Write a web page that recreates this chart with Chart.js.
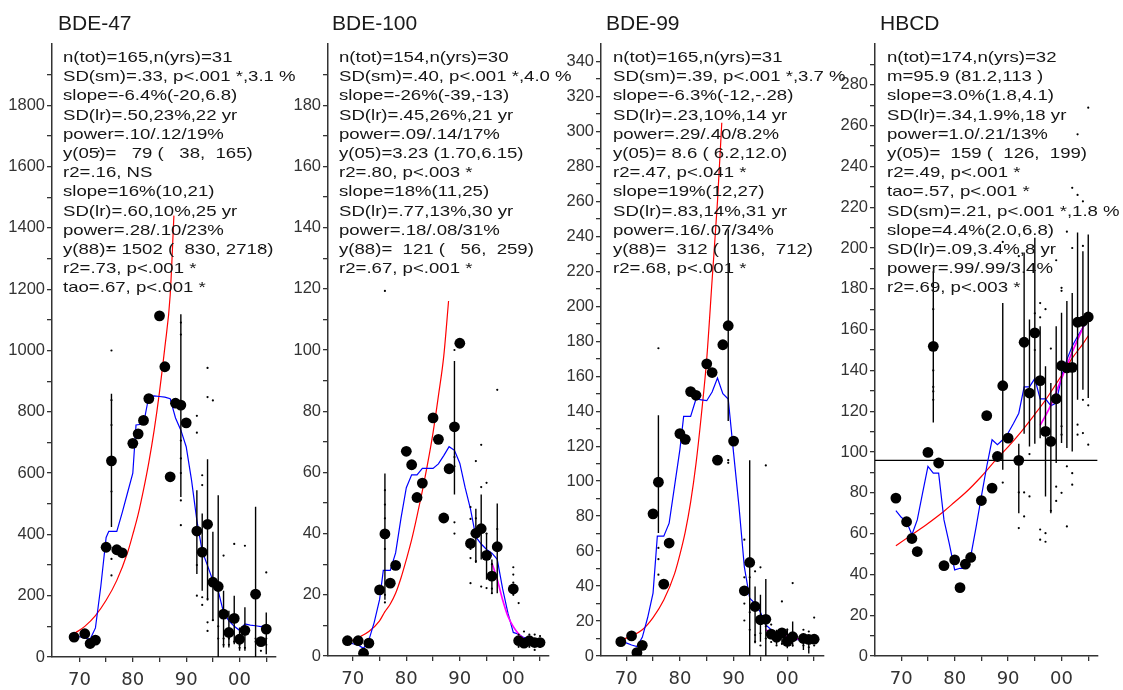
<!DOCTYPE html>
<html>
<head>
<meta charset="utf-8">
<script src="https://cdn.jsdelivr.net/npm/chart.js@4.4.0/dist/chart.umd.min.js"></script>
<style>
  body { margin: 0; background: #fff; width: 1123px; height: 690px; position: relative; overflow: hidden;
         font-family: "Liberation Sans", Arial, sans-serif; }
  canvas { position: absolute; top: 0; }
  .ttl { position: absolute; top: 11px; font-size: 21px; line-height: 24px; color: #1a1a1a; }
  .ann { position: absolute; top: 47px; font-size: 15px; line-height: 19.2px; white-space: pre; color: #151515;
         transform: scaleX(1.24); transform-origin: 0 0; z-index: 2; }
</style>
</head>
<body>
<canvas id="p1" width="279" height="690" style="left:2px;width:279px;height:690px"></canvas>
<canvas id="p2" width="276" height="690" style="left:278px;width:276px;height:690px"></canvas>
<canvas id="p3" width="278" height="690" style="left:551px;width:278px;height:690px"></canvas>
<canvas id="p4" width="278" height="690" style="left:825px;width:278px;height:690px"></canvas>

<div class="ttl" style="left:58px">BDE-47</div>
<div class="ttl" style="left:332px">BDE-100</div>
<div class="ttl" style="left:606px">BDE-99</div>
<div class="ttl" style="left:880px">HBCD</div>

<div class="ann" id="a1" style="left:63px"></div>
<div class="ann" id="a2" style="left:339px"></div>
<div class="ann" id="a3" style="left:613px"></div>
<div class="ann" id="a4" style="left:887px"></div>

<script>
// ---------- BDE-47 ----------
var bde47Years = [69,71,72,73,75,76,77,78,80,81,82,83,85,86,87,88,89,90,92,93,94,95,96,97,98,99,100,101,103,104,105];
var bde47Means = [65,76,44,55,358,640,350,340,697,728,772,843,1113,947,588,828,822,764,411,342,433,244,230,140,80,126,58,87,205,50,91];
var bde47ErrYears = [76,89,92,93,94,95,96,97,98,99,100,101,103,105];
var bde47ErrLo = [424,522,271,216,184,118,0,31,31,42,20,20,0,9];
var bde47ErrHi = [859,1118,544,468,645,409,528,216,151,200,96,162,490,145];
var bde47SampX = [76,76,76,76,76,76,89,89,89,89,89,89,89,92,92,92,92,93,93,93,93,94,94,94,94,94,95,95,96,96,97,97,97,98,98,99,99,100,100,101,101,103,103,104,104,105,105,105,104.1,75.6,73.6];
var bde47SampY = [1000,838,757,540,320,266,1091,1052,706,648,600,511,430,787,732,300,200,593,561,195,170,943,848,189,113,85,837,120,100,60,331,60,40,60,40,369,50,30,40,363,30,60,50,40,20,276,40,60,1335,1335,1650];
var bde47SmX = [69,70,71,72,73,74,75,75.5,77,78,79,80,80.6,82,83,84,85,86,87,88,89,90,91,92,93,94,95,96,97,98,99,100,101,102,103,104,105];
var bde47SmY = [69,66,62,58,95,230,390,410,410,470,535,600,757,760,850,852,850,848,843,780,740,686,577,446,345,298,249,216,145,118,100,87,108,104,102,99,104];
var bde47FitX = [69,71,73,75,77,79,80,81,82,83,84,85,86,87,87.7];
var bde47FitY = [76,100,135,185,250,340,400,465,545,635,740,865,1010,1180,1440];
var bde47Text = [
  "n(tot)=165,n(yrs)=31", "SD(sm)=.33, p<.001 *,3.1 %", "slope=-6.4%(-20,6.8)", "SD(lr)=.50,23%,22 yr",
  "power=.10/.12/19%", "y(05)=   79 (   38,  165)", "r2=.16, NS", "slope=16%(10,21)", "SD(lr)=.60,10%,25 yr",
  "power=.28/.10/23%", "y(88)= 1502 (  830, 2718)", "r2=.73, p<.001 *", "tao=.67, p<.001 *"];

// ---------- BDE-100 ----------
var bde100Years = [69,71,72,73,75,76,77,78,80,81,82,83,85,86,87,88,89,90,92,93,94,95,96,97,100,101,102,103,104,105];
var bde100Means = [5.0,5.0,0.9,4.2,21.6,39.9,23.8,29.6,66.9,62.5,51.8,56.5,77.8,70.8,45.1,61.2,74.9,102.2,36.8,40.1,41.6,32.9,26.1,35.7,21.9,5.0,4.2,5.0,4.4,4.4];
var bde100ErrYears = [76,89,93,94,95,96,97];
var bde100ErrLo = [18.4,52.8,30.4,31.5,24.9,20.5,20.5];
var bde100ErrHi = [59.6,96.4,48.1,52.8,40.2,31.5,49.8];
var bde100SampX = [76,76,76,76,76,76,76,89,89,89,89,89,92,92,92,92,92,93,93,93,94,94,94,95,95,95,96,96,96,97,97,100,100,100,100,101,101,101,102,102,103,103,104,104,105,105];
var bde100SampY = [54.2,49.5,45,35,20,17.5,119.3,100,65,62,43.7,40,48.7,44.8,23.8,35,32,63.7,45,31,69,55.2,22.7,56.6,40,22.2,30,22,20.5,87,41.5,29,26.6,24,20,17.3,7,3,8,3,7,3,7,2,6.5,3];
var bde100SmX = [69,70,71,72,73,74,75,75.7,77,78,79,80,81,82,83,85,86,87,88,89,90,91,92,93,94,95,96,97,98,99,100,101,102,103,104,105];
var bde100SmY = [4.7,4,3.6,2.5,5.2,11,18.4,28,28,33.7,45,55,59.2,59.2,61.3,61.3,62.8,65.5,68.4,67.2,63,55,48,38.9,36.6,34.8,33.6,31.6,22,14,7.7,7.1,6,5.5,5.2,4.9];
var bde100FitX = [69,71,73,75,76,77,78,79,80,81,82,83,84,85,86,87,87.9];
var bde100FitY = [4.4,6,8,11.5,14.5,17,20.5,25.5,31.5,38,45.7,54,63,73,85,98,116];
var bde100RecX = [96,97,98,99,100,101,102,103,104,105];
var bde100RecY = [30.4,25,18.4,13,9.6,7.2,5.6,4.5,3.7,3.1];
var bde100Text = [
  "n(tot)=154,n(yrs)=30", "SD(sm)=.40, p<.001 *,4.0 %", "slope=-26%(-39,-13)", "SD(lr)=.45,26%,21 yr",
  "power=.09/.14/17%", "y(05)=3.23 (1.70,6.15)", "r2=.80, p<.003 *", "slope=18%(11,25)", "SD(lr)=.77,13%,30 yr",
  "power=.18/.08/31%", "y(88)=  121 (   56,  259)", "r2=.67, p<.001 *"];

// ---------- BDE-99 ----------
var bde99Years = [69,71,72,73,75,76,77,78,80,81,82,83,85,86,87,88,89,90,92,93,94,95,96,97,98,99,100,101,103,104,105];
var bde99Means = [8.2,11.5,1.9,6.1,81.3,99.4,41.1,64.6,127.2,123.9,151.2,149.1,167.1,162.1,112,178,188.9,122.9,37.3,53.5,28.3,20.7,21,12.5,10.7,13.2,8.4,11,10,9.5,9.6];
var bde99ErrYears = [76,89,93,94,95,96,98,99,100,101,103,104];
var bde99ErrLo = [70.4,134.4,0,7.3,8.2,0,6.5,6.5,4.4,5.4,3.4,1.5];
var bde99ErrHi = [137.7,244,112,39.8,35,44,15,14,15.7,19.7,13,12];
var bde99SampX = [76,76,76,76,89,89,92,92,92,92,93,93,93,94,94,94,95,95,95,96,96,96,97,97,98,98,99,99,100,100,101,101,103,103,104,104,105,105];
var bde99SampY = [176,61.8,55.4,46.5,112,110.5,66.5,20.3,30,45,45,25,15,48.4,8.2,12,50.7,13,6,109,17,10,18,8,14,6,31.2,7,15,6,41.7,6,15,6,14,5,22,6];
var bde99SmX = [69,70,71,72,73,74,75,75.8,77,78,79,80,80.7,82,83,84,85,86,87,88,89,90,91,92,93,94,95,96,97,98,99,100,101,102,103,104,105];
var bde99SmY = [9.2,7.5,6.3,5.4,10.7,22,36,68.5,68.5,76,97,118,137,137,147,146.5,146,151,159,150,147,116,85.7,51,33,30,25,17.8,15,12,11,10,9.7,9.4,9.2,8.8,8.2];
var bde99FitX = [69,71,73,75,77,79,80,81,82,83,84,85,86,87,87.8];
var bde99FitY = [9,11.5,15,22,32,47,58,71,88,110,138,170,215,260,305];
var bde99RecX = [96,98,100,102,104,105];
var bde99RecY = [14.8,12.8,11.2,9.8,8.7,8.2];
var bde99Text = [
  "n(tot)=165,n(yrs)=31", "SD(sm)=.39, p<.001 *,3.7 %", "slope=-6.3%(-12,-.28)", "SD(lr)=.23,10%,14 yr",
  "power=.29/.40/8.2%", "y(05)= 8.6 ( 6.2,12.0)", "r2=.47, p<.041 *", "slope=19%(12,27)", "SD(lr)=.83,14%,31 yr",
  "power=.16/.07/34%", "y(88)=  312 (  136,  712)", "r2=.68, p<.001 *"];

// ---------- HBCD ----------
var hbcdYears = [69,71,72,73,75,76,77,78,80,81,82,83,85,86,87,88,89,90,92,93,94,95,96,97,98,99,100,101,102,103,104,105];
var hbcdMeans = [77.4,65.8,57.6,51.2,99.8,151.8,94.6,44.3,47.1,33.5,45,48.3,76.2,117.8,82.3,97.8,132.5,106.8,95.9,153.8,128.9,158.4,135,110.1,105.2,126.1,142.3,141.2,141.5,163.6,164.1,166.2];
var hbcdErrYears = [76,89,92,93,94,95,96,97,98,99,100,101,102,103,104,105];
var hbcdErrLo = [114.5,91.3,70,109,102.7,104,106.8,78.2,70,94.6,104.4,102,100.3,125.6,130.5,126.5];
var hbcdErrHi = [188.6,173,104,197.8,165,205,161.6,142,133.8,161.6,168.2,174,178,207.6,198.4,206.6];
var hbcdSampX = [76,76,76,76,76,89,89,92,92,92,93,93,94,94,95,95,96,96,96,96,97,97,97,98,98,99,99,99,100,100,100,100,100,101,101,101,102,102,102,102,103,103,103,103,104,104,104,104,105,105,105];
var hbcdSampY = [131.9,129.7,125.6,140,170,85,203,80.2,62.7,196,80.2,68.4,99,78.2,168,150,173,166,57,62,170,60.2,56,71.2,150.7,76,83,194,112.6,108.5,80,180.5,179,93,63.5,208,89.6,84,229.5,200,113.4,108.5,255.7,226,125.6,109.3,222.9,201,122.9,103.6,268.8];
var hbcdSmX = [69,70,71,72,73,74,75,76,77,78,79,80,81,82,83,84,85,86,87,88,89,90,91,92,93,94,95,96,97,98,99,100,101,102,103,104,105];
var hbcdSmY = [71.3,68,65.9,59.4,66.7,80,92.9,89.6,89.6,66.7,55,42.2,43,43,48.8,63,78.2,92.9,106,103.6,106,109.3,114,119,131.9,131.9,136,126,126,122.7,124,137,145.3,151.8,156.7,161,164.9];
var hbcdFitX = [69,72,75,78,80,82,85,88,90,92,95,97,100,102,104,105];
var hbcdFitY = [54,59.5,65,71,75.5,80,88,97,102.5,108.5,118.5,125.5,137.5,146,153,157];
var hbcdRecX = [96,98,100,102,104,105];
var hbcdRecY = [113,123,136,149,161,167.4];
var hbcdMean = 95.9;
var hbcdText = [
  "n(tot)=174,n(yrs)=32", "m=95.9 (81.2,113 )", "slope=3.0%(1.8,4.1)", "SD(lr)=.34,1.9%,18 yr",
  "power=1.0/.21/13%", "y(05)=  159 (  126,  199)", "r2=.49, p<.001 *", "tao=.57, p<.001 *",
  "SD(sm)=.21, p<.001 *,1.8 %", "slope=4.4%(2.0,6.8)", "SD(lr)=.09,3.4%,8 yr", "power=.99/.99/3.4%", "r2=.69, p<.003 *"];

function pts(xs, ys) { return xs.map(function (x, i) { return {x: x, y: ys[i]}; }); }

// error bars: one segment per year, broken by null points
function bars(xs, lo, hi) {
  var out = [];
  xs.forEach(function (x, i) {
    out.push({x: x, y: lo[i]}, {x: x, y: hi[i]}, {x: x, y: null});
  });
  return out;
}

function makePanel(id, p) {
  var ds = [
    {data: pts(p.years, p.means), pointRadius: 5.4, backgroundColor: '#000', borderWidth: 0, showLine: false},
    {data: pts(p.sampX, p.sampY), pointRadius: 1.1, backgroundColor: '#000', borderWidth: 0, showLine: false},
    {data: bars(p.errX, p.errLo, p.errHi), showLine: true, spanGaps: false, borderColor: '#000', borderWidth: 1.4, pointRadius: 0}
  ];
  if (p.recX) ds.push({data: pts(p.recX, p.recY), showLine: true, borderColor: '#ff00ff', borderWidth: 1.7, pointRadius: 0, cubicInterpolationMode: 'monotone'});
  ds.push({data: pts(p.smX, p.smY), showLine: true, borderColor: '#0000ff', borderWidth: 1.2, pointRadius: 0});
  ds.push({data: pts(p.fitX, p.fitY), showLine: true, borderColor: '#ff0000', borderWidth: 1.2, pointRadius: 0, cubicInterpolationMode: 'monotone'});
  if (p.mean) ds.push({data: [{x: p.xMin, y: p.mean}, {x: p.xMax, y: p.mean}], showLine: true, borderColor: '#000', borderWidth: 1.2, pointRadius: 0});

  new Chart(document.getElementById(id), {
    type: 'scatter',
    data: {datasets: ds},
    options: {
      responsive: false,
      animation: false,
      events: [],
      layout: {padding: {top: 44, right: 1, left: 0, bottom: 0}},
      plugins: {legend: {display: false}, tooltip: {enabled: false}},
      scales: {
        x: {
          type: 'linear', min: p.xMin, max: p.xMax,
          afterFit: function (s) { s.height = 690 - p.bottom; },
          border: {display: true, color: '#333', width: 1.5},
          grid: {drawOnChartArea: false, tickLength: 5, lineWidth: 1.3,
                 color: function (c) { return c.tick && c.tick.value < 70 ? 'rgba(0,0,0,0)' : '#333'; }},
          ticks: {stepSize: 5, includeBounds: false, autoSkip: false, maxRotation: 0, padding: 8, color: '#333',
                  font: {family: 'DejaVu Sans', size: 18},
                  callback: function (v) { return v % 10 === 0 ? String(v % 100).padStart(2, '0') : ''; }}
        },
        y: {
          min: 0, max: p.yMax,
          afterFit: function (s) { s.width = 50; },
          border: {display: true, color: '#333', width: 1.5},
          grid: {drawOnChartArea: false, tickLength: 5, lineWidth: 1.3,
                 color: function (c) { return c.tick && c.tick.value >= p.yMax ? 'rgba(0,0,0,0)' : '#333'; }},
          ticks: {stepSize: p.yStep, autoSkip: false, padding: 2, color: '#333',
                  font: {family: 'Liberation Sans', size: 16.5},
                  callback: function (v) { return (v % (2 * p.yStep) === 0 && v < p.yMax) ? v : ''; }}
        }
      }
    }
  });
}

makePanel('p1', {years: bde47Years, means: bde47Means, sampX: bde47SampX, sampY: bde47SampY,
  errX: bde47ErrYears, errLo: bde47ErrLo, errHi: bde47ErrHi, smX: bde47SmX, smY: bde47SmY,
  fitX: bde47FitX, fitY: bde47FitY, xMin: 64.86, xMax: 106.75, yMax: 2000, yStep: 100, bottom: 657});
makePanel('p2', {years: bde100Years, means: bde100Means, sampX: bde100SampX, sampY: bde100SampY,
  errX: bde100ErrYears, errLo: bde100ErrLo, errHi: bde100ErrHi, smX: bde100SmX, smY: bde100SmY,
  fitX: bde100FitX, fitY: bde100FitY, recX: bde100RecX, recY: bde100RecY,
  xMin: 65.36, xMax: 106.6, yMax: 200, yStep: 10, bottom: 656});
makePanel('p3', {years: bde99Years, means: bde99Means, sampX: bde99SampX, sampY: bde99SampY,
  errX: bde99ErrYears, errLo: bde99ErrLo, errHi: bde99ErrHi, smX: bde99SmX, smY: bde99SmY,
  fitX: bde99FitX, fitY: bde99FitY, recX: bde99RecX, recY: bde99RecY,
  xMin: 65.31, xMax: 106.76, yMax: 350, yStep: 10, bottom: 656});
makePanel('p4', {years: hbcdYears, means: hbcdMeans, sampX: hbcdSampX, sampY: hbcdSampY,
  errX: hbcdErrYears, errLo: hbcdErrLo, errHi: hbcdErrHi, smX: hbcdSmX, smY: hbcdSmY,
  fitX: hbcdFitX, fitY: hbcdFitY, recX: hbcdRecX, recY: hbcdRecY, mean: hbcdMean,
  xMin: 65.09, xMax: 106.75, yMax: 300, yStep: 10, bottom: 656});

document.getElementById('a1').textContent = bde47Text.join('\n');
document.getElementById('a2').textContent = bde100Text.join('\n');
document.getElementById('a3').textContent = bde99Text.join('\n');
document.getElementById('a4').textContent = hbcdText.join('\n');
</script>
</body>
</html>
